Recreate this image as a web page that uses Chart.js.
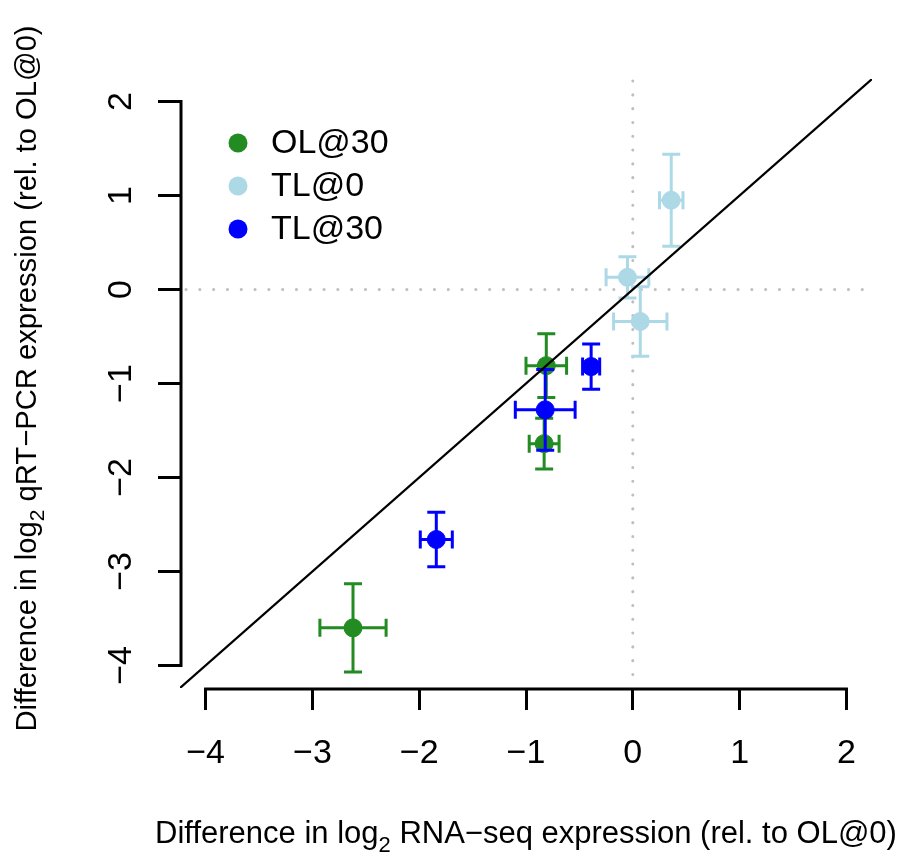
<!DOCTYPE html>
<html>
<head>
<meta charset="utf-8">
<script src="https://cdn.jsdelivr.net/npm/chart.js@4"></script>
<style>
  body { margin: 0; background: #fff; }
  #wrap { width: 904px; height: 857px; }
</style>
</head>
<body>
<div id="wrap"><canvas id="chart" width="904" height="857"></canvas></div>
<script>
// series names and colours
const seriesNames = ["OL@30", "TL@0", "TL@30"];
const seriesColors = ["#228B22", "#ADD8E6", "#0000FF"];

// OL@30
const olX = [-2.62, -0.81, -0.83];
const olY = [-3.60, -0.81, -1.64];
const olXErr = [0.31, 0.19, 0.14];
const olYErr = [0.47, 0.34, 0.27];

// TL@0
const tl0X = [0.36, -0.05, 0.07];
const tl0Y = [0.95, 0.13, -0.34];
const tl0XErr = [0.11, 0.20, 0.25];
const tl0YErr = [0.49, 0.22, 0.37];

// TL@30
const tl30X = [-1.84, -0.82, -0.39];
const tl30Y = [-2.66, -1.28, -0.82];
const tl30XErr = [0.15, 0.28, 0.08];
const tl30YErr = [0.29, 0.43, 0.24];

const xTicks = [-4, -3, -2, -1, 0, 1, 2];
const yTicks = [-4, -3, -2, -1, 0, 1, 2];
const axisMin = -4.24, axisMax = 2.24;

const xTitle = [["Difference in log"], ["2", true], [" RNA\u2212seq expression (rel. to OL@0)"]];
const yTitle = [["Difference in log"], ["2", true], [" qRT\u2212PCR expression (rel. to OL@0)"]];

const FONT = "'Liberation Sans', Arial, Helvetica, sans-serif";

function fmt(v) {
  return v < 0 ? "\u2212" + Math.abs(v) : String(v);
}

function toPoints(xs, ys) {
  return xs.map((x, i) => ({ x: x, y: ys[i] }));
}

function makeSet(i, xs, ys, xe, ye, order) {
  return {
    label: seriesNames[i],
    data: toPoints(xs, ys),
    xErr: xe,
    yErr: ye,
    backgroundColor: seriesColors[i],
    borderColor: seriesColors[i],
    borderWidth: 1,
    pointRadius: 9,
    pointHoverRadius: 9,
    order: order
  };
}

// draws parts of a label, subscripts smaller and lower
function drawParts(ctx, parts, size, cx, baseY) {
  const subSize = Math.round(size * 0.72);
  let total = 0;
  parts.forEach(p => {
    ctx.font = (p[1] ? subSize : size) + "px " + FONT;
    total += ctx.measureText(p[0]).width;
  });
  let x = cx - total / 2;
  ctx.textAlign = "left";
  ctx.textBaseline = "alphabetic";
  parts.forEach(p => {
    ctx.font = (p[1] ? subSize : size) + "px " + FONT;
    ctx.fillText(p[0], x, p[1] ? baseY + size * 0.28 : baseY);
    x += ctx.measureText(p[0]).width;
  });
}

const errorBars = {
  id: "errorBars",
  beforeDatasetDraw(chart, args) {
    const ds = chart.data.datasets[args.index];
    if (!ds.xErr) return;
    const xs = chart.scales.x, ys = chart.scales.y;
    const ctx = chart.ctx;
    const cap = 9;
    ctx.save();
    ctx.strokeStyle = ds.borderColor;
    ctx.lineWidth = 3;
    ds.data.forEach((p, i) => {
      const px = xs.getPixelForValue(p.x), py = ys.getPixelForValue(p.y);
      const x1 = xs.getPixelForValue(p.x - ds.xErr[i]), x2 = xs.getPixelForValue(p.x + ds.xErr[i]);
      const y1 = ys.getPixelForValue(p.y - ds.yErr[i]), y2 = ys.getPixelForValue(p.y + ds.yErr[i]);
      ctx.beginPath();
      ctx.moveTo(x1, py); ctx.lineTo(x2, py);
      ctx.moveTo(x1, py - cap); ctx.lineTo(x1, py + cap);
      ctx.moveTo(x2, py - cap); ctx.lineTo(x2, py + cap);
      ctx.moveTo(px, y1); ctx.lineTo(px, y2);
      ctx.moveTo(px - cap, y1); ctx.lineTo(px + cap, y1);
      ctx.moveTo(px - cap, y2); ctx.lineTo(px + cap, y2);
      ctx.stroke();
    });
    ctx.restore();
  }
};

const frame = {
  id: "frame",
  beforeDatasetsDraw(chart) {
    const { ctx, chartArea: a } = chart;
    const xs = chart.scales.x, ys = chart.scales.y;
    // dotted zero lines
    ctx.save();
    ctx.strokeStyle = "#BEBEBE";
    ctx.lineWidth = 3;
    ctx.lineCap = "round";
    ctx.setLineDash([0.1, 13.7]);
    const x0 = xs.getPixelForValue(0), y0 = ys.getPixelForValue(0);
    ctx.beginPath();
    ctx.moveTo(x0, a.top + 2); ctx.lineTo(x0, a.bottom);
    ctx.moveTo(a.left + 6, y0); ctx.lineTo(a.right, y0);
    ctx.stroke();
    ctx.restore();
  },
  afterDraw(chart) {
    const { ctx, chartArea: a } = chart;
    const xs = chart.scales.x, ys = chart.scales.y;
    // axis lines over the tick range only
    ctx.save();
    ctx.strokeStyle = "#000";
    ctx.lineWidth = 3;
    ctx.lineCap = "square";
    ctx.beginPath();
    ctx.moveTo(xs.getPixelForValue(xTicks[0]), a.bottom + 1);
    ctx.lineTo(xs.getPixelForValue(xTicks[xTicks.length - 1]), a.bottom + 1);
    ctx.moveTo(a.left + 1, ys.getPixelForValue(yTicks[0]));
    ctx.lineTo(a.left + 1, ys.getPixelForValue(yTicks[yTicks.length - 1]));
    ctx.stroke();

    // legend
    const lx = 238, ly = 143, step = 43;
    seriesNames.forEach((name, i) => {
      ctx.fillStyle = seriesColors[i];
      ctx.beginPath();
      ctx.arc(lx, ly + i * step, 9.5, 0, Math.PI * 2);
      ctx.fill();
      ctx.fillStyle = "#000";
      ctx.font = "34px " + FONT;
      ctx.textAlign = "left";
      ctx.textBaseline = "middle";
      ctx.fillText(name, 271, ly + i * step + 1);
    });

    // axis titles
    ctx.fillStyle = "#000";
    drawParts(ctx, xTitle, 31, (a.left + a.right) / 2, 843);
    ctx.translate(36, (a.top + a.bottom) / 2 - 5);
    ctx.rotate(-Math.PI / 2);
    drawParts(ctx, yTitle, 29.2, 0, 0);
    ctx.restore();
  }
};

const tickFont = { family: FONT, size: 34 };

new Chart(document.getElementById("chart"), {
  type: "scatter",
  data: {
    datasets: [
      makeSet(0, olX, olY, olXErr, olYErr, 3),
      makeSet(1, tl0X, tl0Y, tl0XErr, tl0YErr, 2),
      makeSet(2, tl30X, tl30Y, tl30XErr, tl30YErr, 1),
      {
        type: "line",
        label: "y = x",
        data: [{ x: axisMin, y: axisMin }, { x: axisMax, y: axisMax }],
        borderColor: "#000",
        borderWidth: 2.2,
        pointRadius: 0,
        fill: false,
        order: 0
      }
    ]
  },
  options: {
    responsive: false,
    animation: false,
    events: [],
    layout: { padding: { top: 79, right: 32, left: 0, bottom: 0 } },
    plugins: {
      legend: { display: false },
      tooltip: { enabled: false },
      title: { display: false }
    },
    scales: {
      x: {
        type: "linear",
        min: axisMin,
        max: axisMax,
        afterBuildTicks: s => { s.ticks = xTicks.map(v => ({ value: v })); },
        afterFit: s => { s.height = 169; },
        border: { display: false },
        grid: { drawOnChartArea: false, drawTicks: true, tickLength: 22, color: "#000", lineWidth: 3 },
        ticks: { font: tickFont, color: "#000", padding: 23, maxRotation: 0, callback: v => fmt(v) }
      },
      y: {
        type: "linear",
        min: axisMin,
        max: axisMax,
        afterBuildTicks: s => { s.ticks = yTicks.map(v => ({ value: v })); },
        afterFit: s => { s.width = 180; },
        border: { display: false },
        grid: { drawOnChartArea: false, drawTicks: true, tickLength: 22, color: "#000", lineWidth: 3 },
        ticks: { font: tickFont, color: "#000", padding: 17, minRotation: 90, maxRotation: 90, crossAlign: "center", callback: v => fmt(v) }
      }
    }
  },
  plugins: [errorBars, frame]
});
</script>
</body>
</html>
